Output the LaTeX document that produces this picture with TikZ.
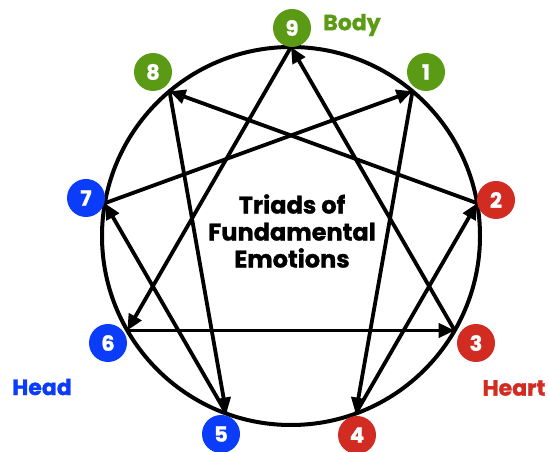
\documentclass[tikz,border=0pt]{standalone}
\usepackage{fontspec}
\setmainfont{Poppins}[BoldFeatures={FakeBold=1.2}]
\usetikzlibrary{arrows.meta,calc}
\definecolor{bodyg}{HTML}{5A9A14}
\definecolor{heartr}{HTML}{D22B22}
\definecolor{headb}{HTML}{0A3CFA}
\tikzset{
  x=1pt,y=1pt,
  ring/.style={line width=4pt},
  link/.style={line width=3.8pt,-{Triangle[length=16pt,width=14pt]}},
  badge/.style={circle,fill=#1,text=white,minimum size=38pt,inner sep=0pt,font=\fontsize{21}{21}\selectfont\bfseries},
  triad/.style={text=#1,font=\fontsize{22}{22}\selectfont\bfseries},
  title/.style={align=center,font=\fontsize{24}{27}\selectfont\bfseries}
}
\begin{document}
\begin{tikzpicture}
\useasboundingbox (0,0) rectangle (549,452);
\coordinate (c) at (291,216);
\draw[ring] (c) circle (189);
\foreach \n/\a in {9/90,1/50,2/10,3/-30,4/-70,5/-110,6/-150,7/170,8/130}{
  \coordinate (p\n) at ($(c)+(\a:189)$);
}
\draw[link] (p2) -- (p8);
\draw[link] (p8) -- (p5);
\draw[link] (p5) -- (p7);
\draw[link] (p7) -- (p1);
\draw[link] (p1) -- (p4);
\draw[link] (p4) -- (p2);
\draw[link] (p9) -- (p6);
\draw[link] (p6) -- (p3);
\draw[link] (p3) -- (p9);
\node[badge=bodyg]  (b9) at (292,424) {9};
\node[badge=bodyg]  (b1) at (426,380) {1};
\node[badge=bodyg]  (b8) at (153,380) {8};
\node[badge=heartr] (b2) at (496,252) {2};
\node[badge=heartr] (b3) at (476,109) {3};
\node[badge=heartr] (b4) at (357,17) {4};
\node[badge=headb]  (b5) at (221,18) {5};
\node[badge=headb]  (b6) at (108,109) {6};
\node[badge=headb]  (b7) at (86,254) {7};
\node[triad=bodyg]  (body)  at (352,427) {Body};
\node[triad=headb]  (head)  at (42,65) {Head};
\node[triad=heartr] (heart) at (514,64) {Heart};
\node[title] (t) at (292,221) {Triads of\\Fundamental\\Emotions};
\end{tikzpicture}
\end{document}
